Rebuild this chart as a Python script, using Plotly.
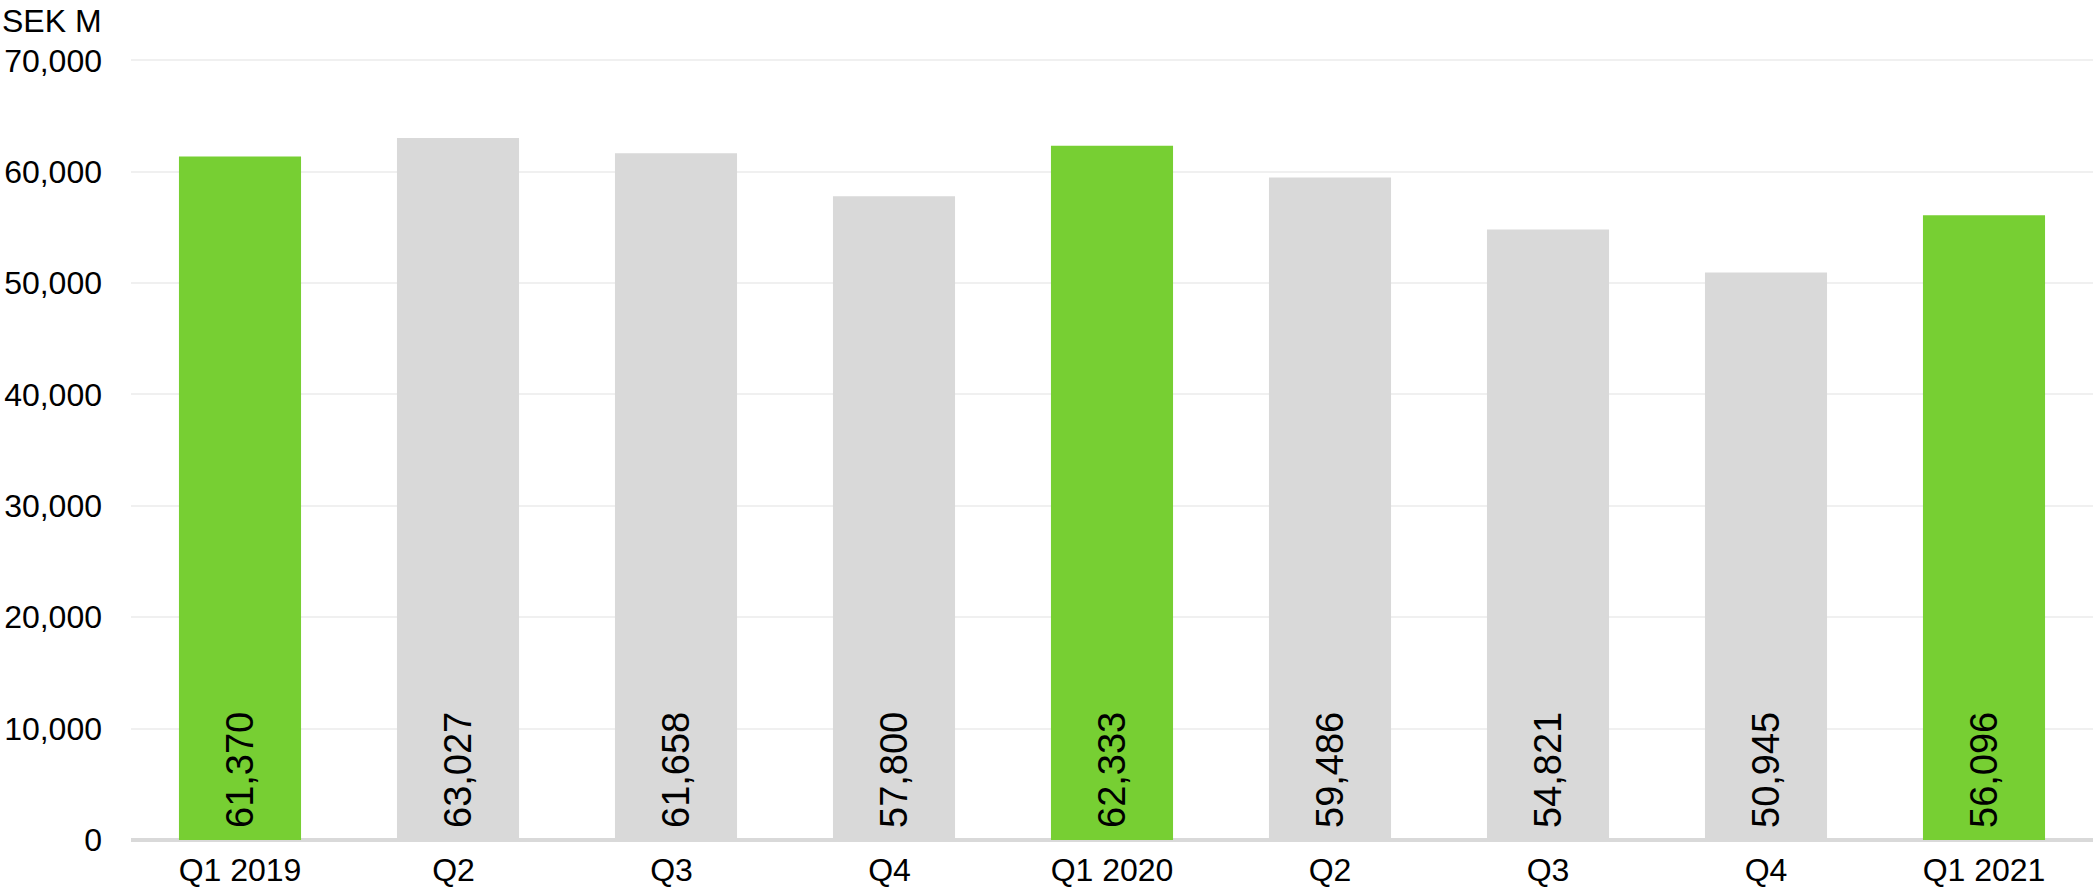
import plotly.graph_objects as go

categories = ["Q1 2019", "Q2 ", "Q3 ", "Q4 ", "Q1 2020", "Q2", "Q3", "Q4", "Q1 2021"]
values = [61370, 63027, 61658, 57800, 62333, 59486, 54821, 50945, 56096]
highlight = [True, False, False, False, True, False, False, False, True]
tick_vals = [0, 10000, 20000, 30000, 40000, 50000, 60000, 70000]

GREEN = "#77CF33"
GRAY = "#D9D9D9"
FONT = "Arial, Liberation Sans, sans-serif"

colors = [GREEN if h else GRAY for h in highlight]
labels = [f"{v:,}" for v in values]

fig = go.Figure()
fig.add_trace(go.Bar(
    x=categories, y=values, marker=dict(color=colors, line=dict(width=0)),
    hoverinfo="skip",
))

annotations = [dict(text="SEK M", xref="paper", yref="paper", x=-131/1962, y=1,
                    xanchor="left", yanchor="bottom", yshift=16, showarrow=False,
                    font=dict(size=32, family=FONT))]
for c, lab in zip(categories, labels):
    annotations.append(dict(x=c, y=0, xref="x", yref="y", text=lab, textangle=-90,
                            showarrow=False, xanchor="center", yanchor="bottom",
                            yshift=10, font=dict(size=38, family=FONT, color="black")))

fig.update_layout(
    width=2093, height=887,
    margin=dict(l=131, r=0, t=57, b=47),
    paper_bgcolor="white", plot_bgcolor="white",
    bargap=0.44, showlegend=False,
    font=dict(family=FONT, size=32, color="black"),
    xaxis=dict(type="category", showgrid=False, showline=False, ticks="",
               tickfont=dict(size=32), zeroline=False, ticklabelstandoff=8),
    yaxis=dict(range=[0, 70300], tickvals=tick_vals,
               tickformat=",d", showgrid=True, gridcolor="#F0F0F0", gridwidth=2,
               zeroline=True, zerolinecolor="#D9D9D9", zerolinewidth=4,
               showline=False, ticks="", ticklabelstandoff=28,
               tickfont=dict(size=32)),
    annotations=annotations,
)

fig.write_html("out.html")
